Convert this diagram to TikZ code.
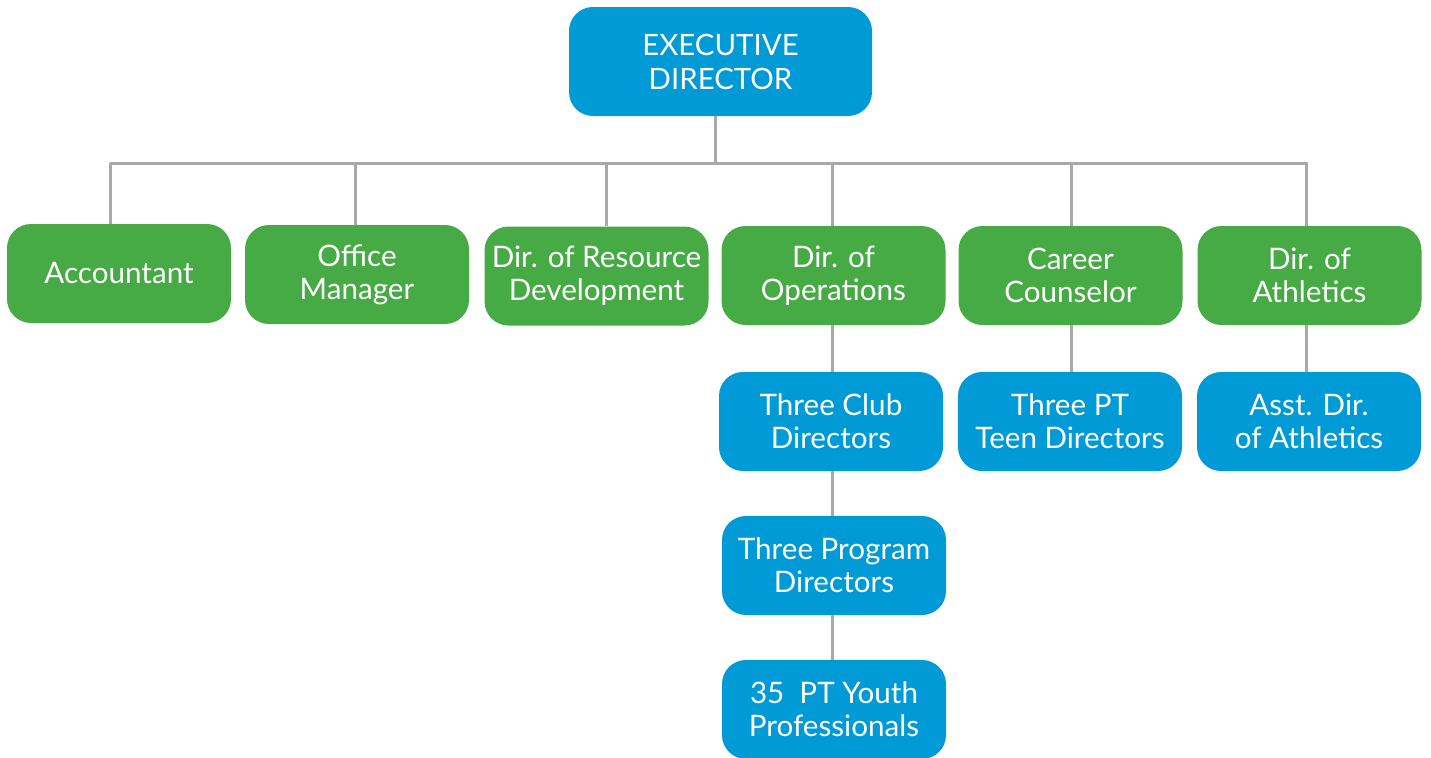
\documentclass[tikz,border=0pt]{standalone}
\usepackage{fontspec}
\setmainfont{Lato}
\definecolor{cgreen}{RGB}{70,171,68}
\definecolor{cblue}{RGB}{0,154,215}
\definecolor{cline}{RGB}{167,169,172}
\tikzset{
  box/.style={rounded corners=12pt, minimum width=112pt, minimum height=49.5pt, text=white, align=center, font=\fontsize{14.8pt}{16.5pt}\selectfont, inner sep=0pt},
  gbox/.style={box, fill=cgreen},
  bbox/.style={box, fill=cblue},
  conn/.style={draw=cline, line width=1.5pt}
}
\begin{document}
\begin{tikzpicture}[x=0.5pt,y=-0.5pt]
\useasboundingbox (0,0) rectangle (1431,757);
\node[bbox, minimum width=151.5pt, minimum height=54.5pt, font=\fontsize{14.7pt}{17pt}\selectfont] (exec) at (720.5,61.5) {EXECUTIVE\\DIRECTOR};
\node[gbox] (acc) at (119,273.5) {Accountant};
\node[gbox] (off) at (357,274.5) {Office\\Manager};
\node[gbox] (res) at (596.5,276) {Dir. of Resource\\Development};
\node[gbox] (ops) at (833.5,275.5) {Dir. of\\Operations};
\node[gbox] (car) at (1070.5,275.5) {Career\\Counselor};
\node[gbox] (ath) at (1309.5,275.5) {Dir. of\\Athletics};
\node[bbox] (club) at (831,421.5) {Three Club\\Directors};
\node[bbox] (teen) at (1070,421.5) {Three PT\\Teen Directors};
\node[bbox] (asst) at (1309,421.5) {Asst. Dir.\\of Athletics};
\node[bbox] (prog) at (834,565.5) {Three Program\\Directors};
\node[bbox] (youth) at (834,709.5) {35\ \ PT Youth\\Professionals};
\coordinate (b0) at (715,163);
\coordinate (b1) at (110,163);
\coordinate (b2) at (355,163);
\coordinate (b3) at (606,163);
\coordinate (b4) at (832,163);
\coordinate (b5) at (1071,163);
\coordinate (b6) at (1306,163);
\coordinate (be) at (1308,163);
\begin{scope}[on background layer/.try]
\draw[conn] (b1) -- (be);
\draw[conn] (b0 |- exec.south) -- (b0);
\draw[conn] (b1) -- (b1 |- acc.north);
\draw[conn] (b2) -- (b2 |- off.north);
\draw[conn] (b3) -- (b3 |- res.north);
\draw[conn] (b4) -- (b4 |- ops.north);
\draw[conn] (b5) -- (b5 |- car.north);
\draw[conn] (b6) -- (b6 |- ath.north);
\draw[conn] (b4 |- ops.south) -- (b4 |- club.north);
\draw[conn] (b4 |- club.south) -- (b4 |- prog.north);
\draw[conn] (b4 |- prog.south) -- (b4 |- youth.north);
\draw[conn] (b5 |- car.south) -- (b5 |- teen.north);
\draw[conn] (b6 |- ath.south) -- (b6 |- asst.north);
\end{scope}
\end{tikzpicture}
\end{document}
